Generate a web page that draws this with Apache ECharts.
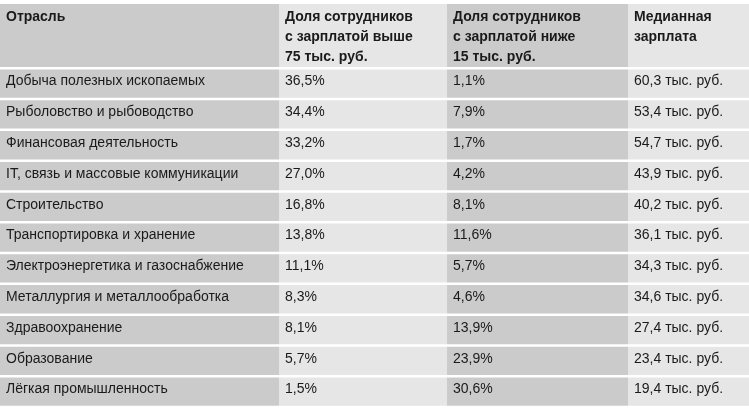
<!DOCTYPE html>
<html><head><meta charset="utf-8">
<script src="https://cdn.jsdelivr.net/npm/echarts@6/dist/echarts.min.js"></script>
<style>html,body{margin:0;background:#fff}#c{width:749px;height:412px}</style>
</head><body><div id="c"></div>
<script>
var headers = ['Отрасль', 'Доля сотрудников\nс зарплатой выше\n75 тыс. руб.', 'Доля сотрудников\nс зарплатой ниже\n15 тыс. руб.', 'Медианная\nзарплата'];
var industries = ['Добыча полезных ископаемых', 'Рыболовство и рыбоводство', 'Финансовая деятельность',
    'IT, связь и массовые коммуникации', 'Строительство', 'Транспортировка и хранение',
    'Электроэнергетика и газоснабжение', 'Металлургия и металлообработка', 'Здравоохранение',
    'Образование', 'Лёгкая промышленность'];
var above75 = ['36,5%', '34,4%', '33,2%', '27,0%', '16,8%', '13,8%', '11,1%', '8,3%', '8,1%', '5,7%', '1,5%'];
var below15 = ['1,1%', '7,9%', '1,7%', '4,2%', '8,1%', '11,6%', '5,7%', '4,6%', '13,9%', '23,9%', '30,6%'];
var median = ['60,3 тыс. руб.', '53,4 тыс. руб.', '54,7 тыс. руб.', '43,9 тыс. руб.', '40,2 тыс. руб.',
    '36,1 тыс. руб.', '34,3 тыс. руб.', '34,6 тыс. руб.', '27,4 тыс. руб.', '23,4 тыс. руб.', '19,4 тыс. руб.'];

var colX = [0, 279, 447, 628, 749];
var colFill = ['#cbcbcb', '#e6e6e6', '#cbcbcb', '#e6e6e6'];
var top0 = 4, headH = 63, rowH = 30.8, gap = 2.5;
var font = '"Liberation Sans Narrow", "Liberation Sans", Arial, sans-serif';
var cols = [industries, above75, below15, median];

var els = [];
function cell(c, y, h, txt, bold) {
    els.push({type: 'rect', shape: {x: colX[c], y: y, width: colX[c + 1] - colX[c], height: h},
        style: {fill: colFill[c]}, silent: true});
    els.push({type: 'text', x: colX[c] + 6, y: y + (bold ? 3 : 2),
        style: {text: txt, fill: '#1a1a1a', font: (bold ? 'bold ' : '') + '14px ' + font, lineHeight: 20}});
}
headers.forEach(function (h, c) { cell(c, top0, headH, h, true); });
industries.forEach(function (_, r) {
    var y = top0 + headH + gap + r * rowH;
    cols.forEach(function (arr, c) { cell(c, y, rowH - gap, arr[r], false); });
});

var chart = echarts.init(document.getElementById('c'));
chart.setOption({animation: false, graphic: els});
</script></body></html>
